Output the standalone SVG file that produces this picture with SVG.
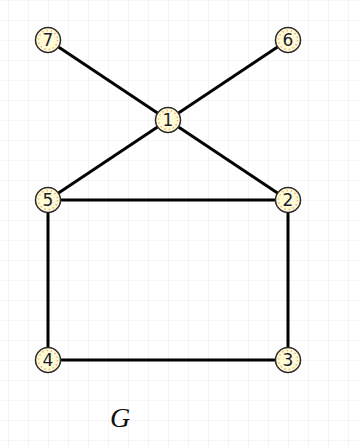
<svg xmlns="http://www.w3.org/2000/svg" width="360" height="447" viewBox="0 0 360 447">
  <defs>
    <pattern id="grid" x="8" y="0" width="20" height="20" patternUnits="userSpaceOnUse">
      <path d="M0 0H20M0 0V20" fill="none" stroke="#ecebf8" stroke-width="1.2"/>
    </pattern>
    <style>
      .edge { stroke: #000; stroke-width: 3; stroke-linecap: butt; fill: none; }
      .ring { fill: #fffbd2; stroke: #2a2a2a; stroke-width: 1.5; }
      .dots { fill: none; stroke: #f0a48a; stroke-width: 1.5; stroke-dasharray: 1.3 3; }
      .lbl { font-family: "DejaVu Sans", Verdana, sans-serif; font-size: 17px; fill: #1a1a33; text-anchor: middle; dominant-baseline: central; }
      .title { font-family: "Liberation Serif", "Times New Roman", serif; font-style: italic; font-size: 28px; fill: #111; text-anchor: middle; }
    </style>
  </defs>

  <rect width="360" height="447" fill="#ffffff"/>
  <rect width="360" height="447" fill="url(#grid)"/>

  <g id="edges">
    <line class="edge" x1="48" y1="40" x2="168" y2="120"/>
    <line class="edge" x1="288" y1="40" x2="168" y2="120"/>
    <line class="edge" x1="168" y1="120" x2="48" y2="200"/>
    <line class="edge" x1="168" y1="120" x2="288" y2="200"/>
    <line class="edge" x1="48" y1="200" x2="288" y2="200"/>
    <line class="edge" x1="48" y1="200" x2="48" y2="360"/>
    <line class="edge" x1="288" y1="200" x2="288" y2="360"/>
    <line class="edge" x1="48" y1="360" x2="288" y2="360"/>
  </g>

  <g id="node-1"><circle class="ring" cx="168" cy="120" r="12.5"/><circle class="dots" cx="168" cy="120" r="9.5"/><text class="lbl" x="168" y="120">1</text></g>
  <g id="node-2"><circle class="ring" cx="288" cy="200" r="12.5"/><circle class="dots" cx="288" cy="200" r="9.5"/><text class="lbl" x="288" y="200">2</text></g>
  <g id="node-3"><circle class="ring" cx="288" cy="360" r="12.5"/><circle class="dots" cx="288" cy="360" r="9.5"/><text class="lbl" x="288" y="360">3</text></g>
  <g id="node-4"><circle class="ring" cx="48" cy="360" r="12.5"/><circle class="dots" cx="48" cy="360" r="9.5"/><text class="lbl" x="48" y="360">4</text></g>
  <g id="node-5"><circle class="ring" cx="48" cy="200" r="12.5"/><circle class="dots" cx="48" cy="200" r="9.5"/><text class="lbl" x="48" y="200">5</text></g>
  <g id="node-6"><circle class="ring" cx="288" cy="40" r="12.5"/><circle class="dots" cx="288" cy="40" r="9.5"/><text class="lbl" x="288" y="40">6</text></g>
  <g id="node-7"><circle class="ring" cx="48" cy="40" r="12.5"/><circle class="dots" cx="48" cy="40" r="9.5"/><text class="lbl" x="48" y="40">7</text></g>

  <text class="title" x="120" y="427">G</text>
</svg>
